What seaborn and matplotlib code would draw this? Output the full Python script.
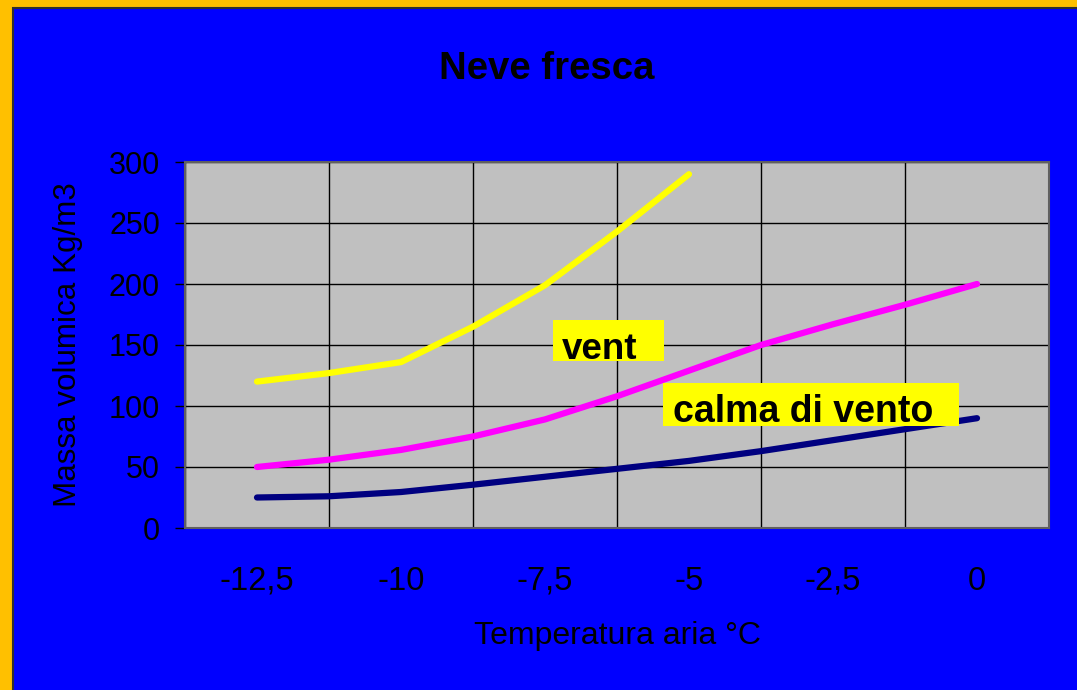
import matplotlib
matplotlib.use("Agg")
import matplotlib.pyplot as plt
from matplotlib.patches import Rectangle
import pandas as pd
import seaborn as sns

# temperatures (°C) and density (Kg/m3)
temp = [-12.5, -11.25, -10, -8.75, -7.5, -6.25, -5, -3.75, -2.5, -1.25, 0]
vento = [120, 127, 136, 165, 199, 243, 290]
calma = [50, 56, 64, 75, 89, 108, 129, 150, 167, 183, 200]
base = [25, 26, 29.5, 35.5, 42, 48.5, 55, 63, 72, 81, 90]

tick_pos = [-12.5, -10, -7.5, -5, -2.5, 0]
tick_lab = ["-12,5", "-10", "-7,5", "-5", "-2,5", "0"]
grid_pos = [-13.75, -11.25, -8.75, -6.25, -3.75, -1.25, 1.25]
y_ticks = [0, 50, 100, 150, 200, 250, 300]

df = pd.concat([
    pd.DataFrame({"temp": temp[:len(vento)], "val": vento, "serie": "vento"}),
    pd.DataFrame({"temp": temp, "val": calma, "serie": "calma"}),
    pd.DataFrame({"temp": temp, "val": base, "serie": "base"}),
], ignore_index=True)

sns.set_style("white")
plt.rcParams['font.family'] = ['Liberation Sans', 'DejaVu Sans']
plt.rcParams['text.color'] = 'black'
plt.rcParams['axes.labelcolor'] = 'black'
plt.rcParams['xtick.color'] = 'black'
plt.rcParams['ytick.color'] = 'black'

fig = plt.figure(figsize=(10.77, 6.9), dpi=100, facecolor='#FFC000')
fig.patches.append(Rectangle((13/1077, -0.01), 1.0, 1.01 - 8/690, transform=fig.transFigure,
                             facecolor='#0000FF', edgecolor='#303030', linewidth=1.5, zorder=-5))
ax = fig.add_axes([185/1077, 1 - 528/690, 864/1077, 366/690])
ax.set_facecolor('#C0C0C0')

sns.lineplot(data=df, x='temp', y='val', hue='serie', ax=ax, legend=False,
             palette={'vento': '#FFFF00', 'calma': '#FF00FF', 'base': '#000080'},
             linewidth=4.5, solid_capstyle='round', zorder=3, sort=True)

ax.set_xlim(-13.75, 1.25)
ax.set_ylim(0, 300)
ax.set_xticks(tick_pos)
ax.set_xticklabels(tick_lab)
ax.set_xticks(grid_pos, minor=True)
ax.set_yticks(y_ticks)
ax.tick_params(axis='x', which='major', length=0, pad=27, labelsize=23.5)
ax.tick_params(axis='x', which='minor', length=4, direction='out', color='#303030')
ax.tick_params(axis='y', length=7, width=1, color='black', pad=11, labelsize=22, left=True)
ax.grid(False)
ax.grid(which='minor', axis='x', color='black', linewidth=1)
ax.grid(which='major', axis='y', color='black', linewidth=1)
ax.set_axisbelow(True)
for s in ax.spines.values():
    s.set_color('#606060')
    s.set_linewidth(1.5)

ax.set_xlabel("Temperatura aria °C", fontsize=23, va='top')
ax.xaxis.set_label_coords(0.5, -0.255)
ax.set_ylabel("Massa volumica Kg/m3", fontsize=22.6)
ax.yaxis.set_label_coords(-0.118, 0.5)

fig.text(547/1077, 1 - 79/690, "Neve fresca", fontsize=27.6, fontweight='bold',
         ha='center', va='baseline')

# label boxes
ax.add_patch(Rectangle((-7.36, 136.9), 1.93, 33.6, facecolor='#FFFF00', edgecolor='none', zorder=5))
ax.text(-7.205, 138.5, "vent", fontsize=26.5, fontweight='bold', va='baseline', zorder=6)
ax.add_patch(Rectangle((-5.45, 83.6), 5.14, 35.3, facecolor='#FFFF00', edgecolor='none', zorder=5))
ax.text(-5.28, 86.9, "calma di vento", fontsize=27, fontweight='bold', va='baseline', zorder=6)

fig.savefig("out.png", dpi=100, facecolor=fig.get_facecolor())
